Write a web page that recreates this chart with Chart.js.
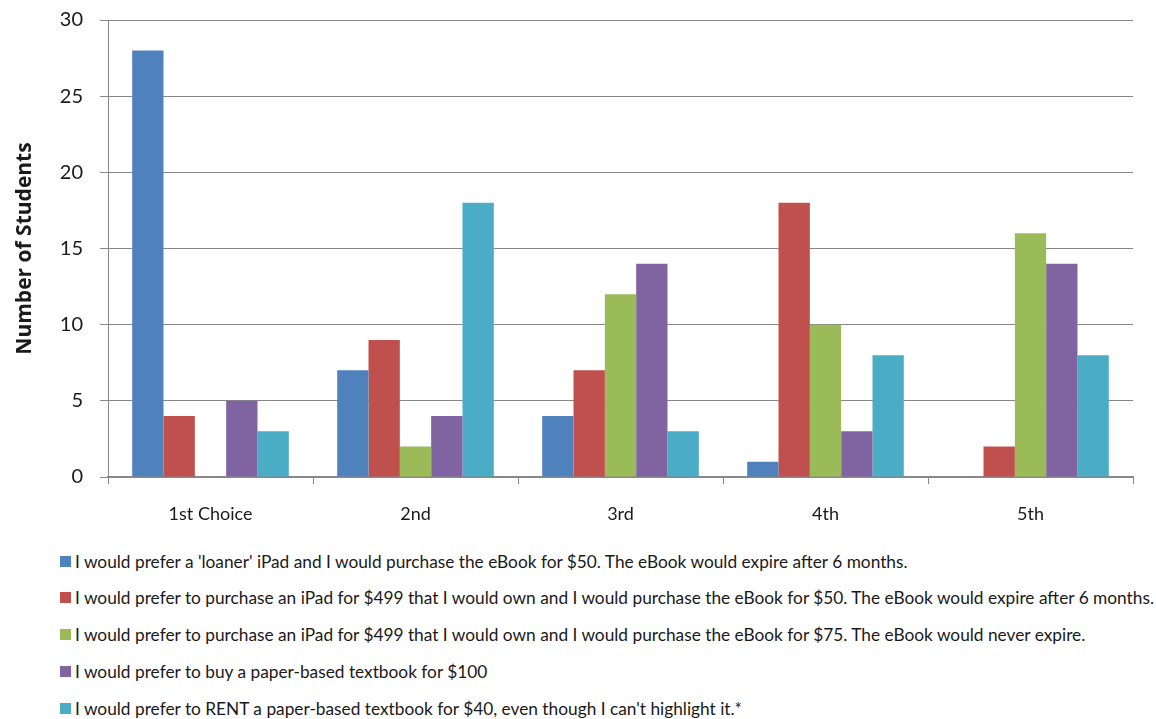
<!DOCTYPE html>
<html>
<head>
<meta charset="utf-8">
<script src="https://cdn.jsdelivr.net/npm/chart.js@4.4.0/dist/chart.umd.min.js"></script>
<style>
  body { margin: 0; background: #fff; font-family: Lato, sans-serif; }
  #wrap { position: relative; width: 1156px; height: 719px; }
  #chartBox { position: absolute; left: 0; top: 0; width: 1156px; height: 540px; }
  #legend { position: absolute; left: 60px; top: 549px; }
  .legend-item { display: flex; align-items: center; height: 24px; margin-bottom: 12.8px;
                 font-size: 17.3px; color: #1a1a1a; white-space: nowrap; }
  .legend-item span.box { display: inline-block; width: 11px; height: 11px; margin-right: 4px; }
</style>
</head>
<body>
<div id="wrap">
  <div id="chartBox"><canvas id="chart"></canvas></div>
  <div id="legend"></div>
</div>
<script>
const categories = ['1st Choice', '2nd', '3rd', '4th', '5th'];

const seriesNames = [
    "I would prefer a 'loaner' iPad and I would purchase the eBook for $50. The eBook would expire after 6 months.",
    "I would prefer to purchase an iPad for $499 that I would own and I would purchase the eBook for $50. The eBook would expire after 6 months.",
    "I would prefer to purchase an iPad for $499 that I would own and I would purchase the eBook for $75. The eBook would never expire.",
    "I would prefer to buy a paper-based textbook for $100",
    "I would prefer to RENT a paper-based textbook for $40, even though I can't highlight it.*"
];

const loanerIpad = [28, 7, 4, 1, 0];
const buyIpad50 = [4, 9, 7, 18, 2];
const buyIpad75 = [0, 2, 12, 10, 16];
const paperBuy = [5, 4, 14, 3, 14];
const paperRent = [3, 18, 3, 8, 8];

const seriesColors = ['#4F81BD', '#C0504D', '#9BBB59', '#8064A2', '#4BACC6'];
const yTicks = [0, 5, 10, 15, 20, 25, 30];

const allSeries = [loanerIpad, buyIpad50, buyIpad75, paperBuy, paperRent];
const gridColor = '#888888';
const textColor = '#1a1a1a';

const datasets = allSeries.map((values, i) => ({
    label: seriesNames[i],
    data: values,
    backgroundColor: seriesColors[i],
    borderWidth: 0,
    categoryPercentage: 0.764,
    barPercentage: 1.0
}));

const ctx = document.getElementById('chart').getContext('2d');
const chart = new Chart(ctx, {
    type: 'bar',
    data: { labels: categories, datasets: datasets },
    options: {
        responsive: true,
        maintainAspectRatio: false,
        animation: false,
        layout: { padding: { top: 20, right: 23, left: 0, bottom: 0 } },
        plugins: {
            legend: { display: false },
            tooltip: { enabled: false }
        },
        scales: {
            x: {
                grid: {
                    offset: true,
                    drawOnChartArea: false,
                    drawTicks: true,
                    tickLength: 7,
                    color: gridColor,
                    lineWidth: 1
                },
                border: { color: gridColor, width: 2 },
                ticks: {
                    color: textColor,
                    font: { family: 'Lato', size: 18 },
                    padding: 19
                },
                afterFit: (scale) => { scale.height = 540 - 477; }
            },
            y: {
                min: 0,
                max: 30,
                afterBuildTicks: (scale) => { scale.ticks = yTicks.map(v => ({ value: v })); },
                grid: {
                    color: gridColor,
                    lineWidth: 1,
                    drawTicks: true,
                    tickLength: 8
                },
                border: { color: gridColor, width: 1 },
                ticks: {
                    color: textColor,
                    font: { family: 'Lato', size: 20 },
                    padding: 17
                },
                title: {
                    display: true,
                    text: 'Number of Students',
                    color: textColor,
                    font: { family: 'Open Sans', size: 21, weight: 'bold' },
                    padding: { top: 12, bottom: 4 }
                },
                afterFit: (scale) => {
                    scale.width = 108;
                    scale.paddingTop = 0;
                    scale.paddingBottom = 0;
                }
            }
        }
    }
});

// legend as plain html list below the chart
const legendBox = document.getElementById('legend');
chart.data.datasets.forEach((ds) => {
    const item = document.createElement('div');
    item.className = 'legend-item';
    const box = document.createElement('span');
    box.className = 'box';
    box.style.backgroundColor = ds.backgroundColor;
    const label = document.createElement('span');
    label.textContent = ds.label;
    item.appendChild(box);
    item.appendChild(label);
    legendBox.appendChild(item);
});
</script>
</body>
</html>
